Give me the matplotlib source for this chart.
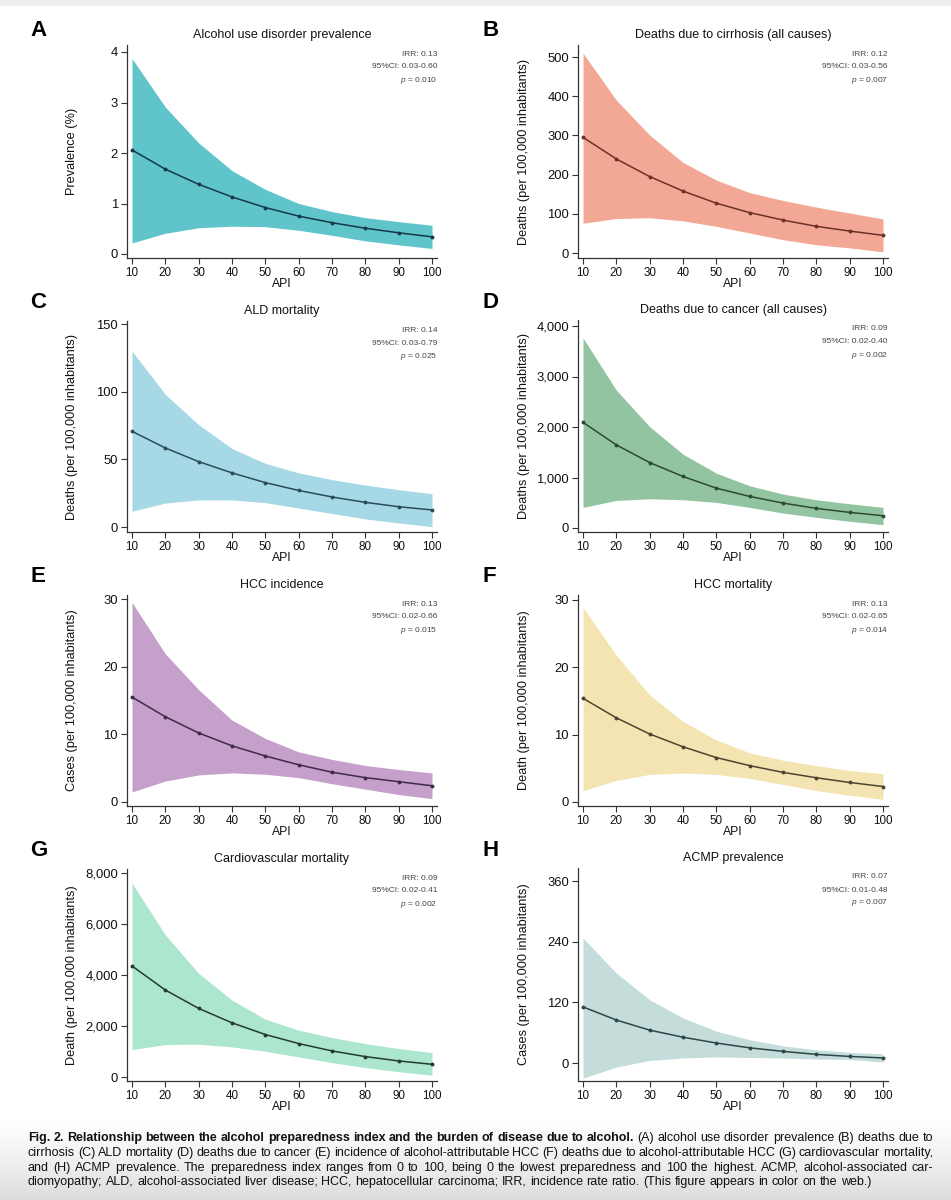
import numpy as np
import matplotlib
matplotlib.use("Agg")
import matplotlib.pyplot as plt
from matplotlib.ticker import FuncFormatter

plt.rcParams['font.family'] = ['Liberation Sans', 'DejaVu Sans']
plt.rcParams['mathtext.fontset'] = 'custom'
plt.rcParams['mathtext.rm'] = 'Liberation Sans'
plt.rcParams['mathtext.it'] = 'Liberation Sans:italic'

# ---------------- data ----------------
api = [10, 20, 30, 40, 50, 60, 70, 80, 90, 100]

aud_mean = [2.06, 1.68, 1.38, 1.13, 0.92, 0.75, 0.62, 0.51, 0.42, 0.34]
aud_hi = [3.87, 2.91, 2.20, 1.65, 1.28, 1.00, 0.84, 0.72, 0.64, 0.57]
aud_lo = [0.22, 0.41, 0.52, 0.55, 0.54, 0.47, 0.37, 0.26, 0.18, 0.11]

cir_mean = [295, 240, 195, 158, 127, 103, 84, 68, 56, 45]
cir_hi = [510, 390, 301, 231, 186, 154, 134, 117, 102, 87]
cir_lo = [76, 88, 90, 82, 68, 51, 34, 21, 13, 3]

ald_mean = [70.7, 58.4, 48.3, 40.0, 32.8, 27.0, 22.2, 18.2, 15.0, 12.6]
ald_hi = [130, 98, 75.6, 58, 47, 40, 35, 31, 27.6, 24.6]
ald_lo = [11.6, 17.7, 20, 20, 18, 14, 10, 6, 3, 0.3]

can_mean = [2092, 1645, 1296, 1020, 789, 625, 493, 388, 309, 243]
can_hi = [3763, 2730, 2007, 1461, 1086, 836, 671, 559, 480, 408]
can_lo = [408, 546, 579, 559, 507, 408, 296, 211, 132, 66]

hcci_mean = [15.5, 12.6, 10.2, 8.3, 6.8, 5.5, 4.4, 3.6, 3.0, 2.4]
hcci_hi = [29.5, 21.9, 16.6, 12.1, 9.4, 7.4, 6.3, 5.4, 4.8, 4.3]
hcci_lo = [1.5, 3.1, 4.0, 4.3, 4.1, 3.6, 2.7, 1.9, 1.1, 0.5]

hccm_mean = [15.4, 12.5, 10.1, 8.2, 6.6, 5.4, 4.4, 3.6, 2.9, 2.3]
hccm_hi = [28.9, 21.8, 15.9, 12.0, 9.2, 7.3, 6.2, 5.4, 4.7, 4.2]
hccm_lo = [1.7, 3.2, 4.1, 4.3, 4.1, 3.5, 2.6, 1.7, 1.0, 0.4]

cvd_mean = [4354, 3410, 2689, 2125, 1666, 1311, 1023, 800, 630, 498]
cvd_hi = [7607, 5574, 4066, 3016, 2269, 1836, 1548, 1311, 1115, 957]
cvd_lo = [1075, 1272, 1285, 1180, 1010, 787, 564, 367, 210, 66]

acmp_mean = [111, 85, 65, 51, 39.5, 30, 23, 17, 13, 10]
acmp_hi = [247, 178, 125, 89, 63, 46, 34, 26, 21, 18]
acmp_lo = [-30, -8, 5, 10, 12, 11, 10, 8, 7, 2]

letters = ["A", "B", "C", "D", "E", "F", "G", "H"]
titles = ["Alcohol use disorder prevalence", "Deaths due to cirrhosis (all causes)",
          "ALD mortality", "Deaths due to cancer (all causes)",
          "HCC incidence", "HCC mortality",
          "Cardiovascular mortality", "ACMP prevalence"]
ylabels = ["Prevalence (%)", "Deaths (per 100,000 inhabitants)",
           "Deaths (per 100,000 inhabitants)", "Deaths (per 100,000 inhabitants)",
           "Cases (per 100,000 inhabitants)", "Death (per 100,000 inhabitants)",
           "Death (per 100,000 inhabitants)", "Cases (per 100,000 inhabitants)"]
irr = ["0.13", "0.12", "0.14", "0.09", "0.13", "0.13", "0.09", "0.07"]
ci = ["0.03-0.60", "0.03-0.56", "0.03-0.79", "0.02-0.40",
      "0.02-0.66", "0.02-0.65", "0.02-0.41", "0.01-0.48"]
pvals = ["0.010", "0.007", "0.025", "0.002", "0.015", "0.014", "0.002", "0.007"]
yticks = [[0, 1, 2, 3, 4], [0, 100, 200, 300, 400, 500], [0, 50, 100, 150],
          [0, 1000, 2000, 3000, 4000], [0, 10, 20, 30], [0, 10, 20, 30],
          [0, 2000, 4000, 6000, 8000], [0, 120, 240, 360]]
means = [aud_mean, cir_mean, ald_mean, can_mean, hcci_mean, hccm_mean, cvd_mean, acmp_mean]
his = [aud_hi, cir_hi, ald_hi, can_hi, hcci_hi, hccm_hi, cvd_hi, acmp_hi]
los = [aud_lo, cir_lo, ald_lo, can_lo, hcci_lo, hccm_lo, cvd_lo, acmp_lo]

fill_colors = ["#5fc5cb", "#f2a894", "#a7d8e5", "#93c4a1", "#c5a0ca", "#f3e4b1", "#ade6cf", "#c4dcda"]
line_colors = ["#173848", "#6e3127", "#2c4c5a", "#2d4a36", "#3e2b48", "#4d4530", "#243b30", "#2c4747"]

# ---------------- layout (pixels) ----------------
W, H = 951, 1200
DPI = 100
fig = plt.figure(figsize=(W / DPI, H / DPI), dpi=DPI)


def fx(x):
    return x / W


def fy(y):
    return 1 - y / H


# background gradient (page scan look)
bg = fig.add_axes([0, 0, 1, 1], zorder=-10)
bg.axis("off")
ys = np.arange(H)
shade = np.ones(H)
shade[:6] = 0.93
grad_start = 1115
mask = ys > grad_start
shade[mask] = 1 - 0.14 * ((ys[mask] - grad_start) / (H - grad_start)) ** 1.3
img = np.repeat(shade[:, None], 4, axis=1)
bg.imshow(img, cmap="gray", vmin=0, vmax=1, aspect="auto", extent=[0, 1, 0, 1], interpolation="bilinear")
bg.set_xlim(0, 1)
bg.set_ylim(0, 1)

col_lr = [(127, 437), (578, 888)]
col_x10 = [132, 583]
col_x100 = [432, 883]
col_letter_x = [30, 483]
col_ylabel_x = [72, 524]
# (axes top, axes bottom, top tick px, zero px, letter center y)
rows = [(45, 258, 52, 254, 30), (45, 258, 57, 253, 30),
        (321, 532, 324, 527, 302), (320, 532, 326, 528, 302),
        (595, 806, 599, 802, 577), (595, 806, 600, 802, 576),
        (869, 1081, 873, 1077, 851), (868, 1081, 881, 1063, 851)]

axis_col = "#333333"
for i in range(8):
    c = i % 2
    left, right = col_lr[c]
    top, bottom, ttop, tzero, ly = rows[i]
    ax = fig.add_axes([fx(left), fy(bottom), (right - left) / W, (bottom - top) / H])
    sx = (col_x100[c] - col_x10[c]) / 90.0
    ax.set_xlim(10 - (col_x10[c] - left) / sx, 100 + (right - col_x100[c]) / sx)
    topval = yticks[i][-1]
    sy = (tzero - ttop) / topval
    ax.set_ylim(-(bottom - tzero) / sy, topval + (ttop - top) / sy)

    ax.fill_between(api, los[i], his[i], color=fill_colors[i], lw=0, zorder=1)
    ax.plot(api, means[i], color=line_colors[i], lw=1.1, marker="o", ms=1.8, zorder=3)

    for s in ["top", "right"]:
        ax.spines[s].set_visible(False)
    for s in ["left", "bottom"]:
        ax.spines[s].set_color(axis_col)
        ax.spines[s].set_linewidth(0.9)
    ax.set_xticks(api)
    ax.set_yticks(yticks[i])
    ax.yaxis.set_major_formatter(FuncFormatter(lambda v, p: f"{int(v):,}"))
    ax.tick_params(direction="out", length=4, width=0.8, color=axis_col,
                   pad=2.5, labelcolor="#111111")
    ax.tick_params(axis="x", labelsize=8.4)
    ax.tick_params(axis="y", labelsize=9.4)
    ax.set_facecolor("none")

    cx = (left + right) / 2
    fig.text(fx(cx), fy(top - 10), titles[i], ha="center", va="center", fontsize=9, color="#111111")
    fig.text(fx(cx), fy(bottom + 26), "API", ha="center", va="center", fontsize=8.7, color="#111111")
    fig.text(fx(col_ylabel_x[c]), fy((top + bottom) / 2), ylabels[i], rotation=90,
             ha="center", va="center", fontsize=9.2, color="#111111")
    fig.text(fx(col_letter_x[c]), fy(ly), letters[i], ha="left", va="center",
             fontsize=16, fontweight="bold", color="#000000")
    fig.text(fx(right), fy(top + 9), f"IRR: {irr[i]}", ha="right", va="center", fontsize=6.0, color="#444444")
    fig.text(fx(right), fy(top + 22), f"95%CI: {ci[i]}", ha="right", va="center", fontsize=6.0, color="#444444")
    fig.text(fx(right), fy(top + 35), r"$\mathit{p}$ = " + pvals[i], ha="right", va="center",
             fontsize=6.0, color="#444444")

# ---------------- caption ----------------
cap_lines = [
    [("Fig. 2. Relationship between the alcohol preparedness index and the burden of disease due to alcohol.", True),
     ("(A) alcohol use disorder prevalence (B) deaths due to", False)],
    [("cirrhosis (C) ALD mortality (D) deaths due to cancer (E) incidence of alcohol-attributable HCC (F) deaths due to alcohol-attributable HCC (G) cardiovascular mortality,", False)],
    [("and (H) ACMP prevalence. The preparedness index ranges from 0 to 100, being 0 the lowest preparedness and 100 the highest. ACMP, alcohol-associated car-", False)],
    [("diomyopathy; ALD, alcohol-associated liver disease; HCC, hepatocellular carcinoma; IRR, incidence rate ratio. (This figure appears in color on the web.)", False)],
]
cap_y = [1138, 1153, 1168, 1182]
cap_x0, cap_x1 = 28, 933
last_line_end = 868
justify = [True, True, True, False]
renderer = fig.canvas.get_renderer()

# choose caption size so that the (unjustified) last line spans like the original
probe = fig.text(0, 0, cap_lines[3][0][0], fontsize=10)
probe_w = probe.get_window_extent(renderer).width
probe.remove()
cap_size = 10 * (last_line_end - cap_x0) / probe_w

for li, segs in enumerate(cap_lines):
    words = []
    for txt, bold in segs:
        for w in txt.split(" "):
            words.append((w, bold))
    objs = []
    widths = []
    for w, bold in words:
        t = fig.text(0, fy(cap_y[li]), w, fontsize=cap_size, va="center", ha="left",
                     fontweight="bold" if bold else "normal", color="#111111")
        objs.append(t)
        widths.append(t.get_window_extent(renderer).width)
    space_t = fig.text(0, 0, "x x", fontsize=cap_size)
    nospace_t = fig.text(0, 0, "xx", fontsize=cap_size)
    space_w = space_t.get_window_extent(renderer).width - nospace_t.get_window_extent(renderer).width
    space_t.remove()
    nospace_t.remove()
    total = sum(widths)
    if justify[li] and len(words) > 1:
        gap = max((cap_x1 - cap_x0 - total) / (len(words) - 1), 0.6 * space_w)
    else:
        gap = space_w
    x = cap_x0
    for t, wd in zip(objs, widths):
        t.set_x(fx(x))
        x += wd + gap

fig.savefig("out.png", dpi=DPI)
